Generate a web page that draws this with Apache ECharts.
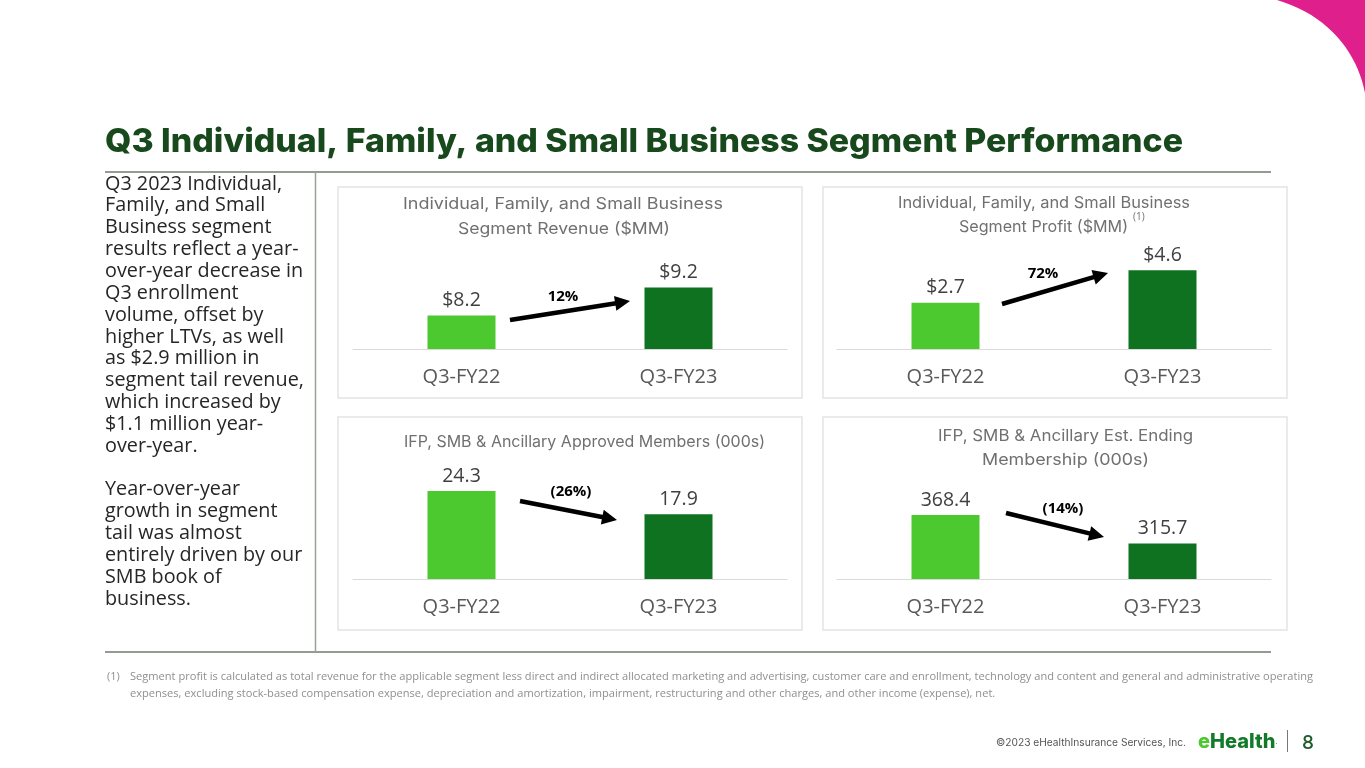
<!DOCTYPE html>
<html>
<head>
<meta charset="utf-8">
<script src="https://cdn.jsdelivr.net/npm/echarts@6/dist/echarts.min.js"></script>
<style>
    html, body { margin: 0; padding: 0; background: #ffffff; }
    #slide { width: 1365px; height: 768px; }
</style>
</head>
<body>
<div id="slide"></div>
<script>
// data
var periods = ['Q3-FY22', 'Q3-FY23'];
var revenue = [8.2, 9.2];          // segment revenue, $MM
var profit = [2.7, 4.6];           // segment profit, $MM
var approved = [24.3, 17.9];       // approved members, 000s
var membership = [368.4, 315.7];   // est. ending membership, 000s
var changes = ['12%', '72%', '(26%)', '(14%)'];

var LIGHT = '#4cc92f';
var DARK = '#0e7220';
var SANS = "'Open Sans', 'Noto Sans', sans-serif";
var GEO = "Inter, 'Noto Sans', sans-serif";

// squeeze or stretch a text horizontally so that it spans the given width
function fitScale(text, font, width) {
    var ctx = document.createElement('canvas').getContext('2d');
    ctx.font = font;
    return width / ctx.measureText(text).width;
}

// panels: box, grid and axis range
var panels = [
    { box: [338, 187, 464, 211], left: 353, top: 250, min: 7, max: 10.54, data: revenue, prefix: '$' },
    { box: [823, 187, 464, 211], left: 837, top: 250, min: 0, max: 5.79, data: profit, prefix: '$' },
    { box: [338, 417, 464, 213], left: 353, top: 480, min: 0, max: 27.35, data: approved, prefix: '' },
    { box: [823, 417, 464, 213], left: 837, top: 480, min: 250, max: 433, data: membership, prefix: '' }
];

var grids = [], xAxes = [], yAxes = [], series = [];
panels.forEach(function (p, i) {
    grids.push({ left: p.left, top: p.top, width: 434, height: 99 });
    xAxes.push({
        type: 'category', gridIndex: i, data: periods,
        axisLine: { lineStyle: { color: '#d9d9d9', width: 1 } },
        axisTick: { show: false },
        axisLabel: { fontFamily: SANS, fontSize: 20, color: '#595959', margin: 18 }
    });
    yAxes.push({
        type: 'value', gridIndex: i, min: p.min, max: p.max, show: false,
        splitLine: { show: false }
    });
    series.push({
        type: 'bar', xAxisIndex: i, yAxisIndex: i, barWidth: 68,
        data: p.data,
        itemStyle: {
            color: function (params) { return params.dataIndex === 0 ? LIGHT : DARK; }
        },
        label: {
            show: true, position: 'top', distance: 5,
            fontFamily: SANS, fontSize: 19.5, color: '#404040',
            formatter: function (params) { return p.prefix + params.value.toFixed(1); }
        },
        silent: true
    });
});

// trend arrows (slide annotations)
var arrows = [
    { from: [510, 320], to: [630, 301], text: [563, 297] },
    { from: [1002, 304], to: [1108, 273], text: [1043, 274] },
    { from: [520, 501], to: [617, 520], text: [571, 492] },
    { from: [1006, 513], to: [1104, 537], text: [1063, 509] }
];

function arrowShapes(a, label) {
    var x1 = a.from[0], y1 = a.from[1], x2 = a.to[0], y2 = a.to[1];
    var ang = Math.atan2(y2 - y1, x2 - x1);
    var hl = 15, hw = 7.5;
    var bx = x2 - hl * Math.cos(ang), by = y2 - hl * Math.sin(ang);
    return [{
        type: 'line',
        shape: { x1: x1, y1: y1, x2: bx + Math.cos(ang), y2: by + Math.sin(ang) },
        style: { stroke: '#000', lineWidth: 4.5 }
    }, {
        type: 'polygon',
        shape: { points: [[x2, y2], [bx - hw * Math.sin(ang), by + hw * Math.cos(ang)], [bx + hw * Math.sin(ang), by - hw * Math.cos(ang)]] },
        style: { fill: '#000' }
    }, {
        type: 'text', x: a.text[0], y: a.text[1],
        style: { text: label, fontFamily: SANS, fontWeight: 'bold', fontSize: 15, fill: '#000', align: 'center', verticalAlign: 'middle' }
    }];
}

// magenta corner outline: top edge, right edge, then a curve back
function cornerPoints() {
    var pts = [[1277, 0], [1366, 0], [1366, 93]];
    var p0 = [1365, 93], c1 = [1357, 52], c2 = [1328, 15], p3 = [1277, 0];
    for (var t = 0; t <= 1.0001; t += 0.05) {
        var u = 1 - t;
        pts.push([
            u * u * u * p0[0] + 3 * u * u * t * c1[0] + 3 * u * t * t * c2[0] + t * t * t * p3[0],
            u * u * u * p0[1] + 3 * u * u * t * c1[1] + 3 * u * t * t * c2[1] + t * t * t * p3[1]
        ]);
    }
    return pts;
}

var titleText = 'Q3 Individual, Family, and Small Business Segment Performance';
var titleFont = '800 33px Inter';
var titleScale = fitScale(titleText, titleFont, 1078);

var noteLine1 = 'Segment profit is calculated as total revenue for the applicable segment less direct and indirect allocated marketing and advertising, customer care and enrollment, technology and content and general and administrative operating';
var noteLine2 = 'expenses, excluding stock-based compensation expense, depreciation and amortization, impairment, restructuring and other charges, and other income (expense), net.';
var noteScale = fitScale(noteLine1, "11px 'Open Sans'", 1183);

var bodyLines = [
    'Q3 2023 Individual,',
    'Family, and Small',
    'Business segment',
    'results reflect a year-',
    'over-year decrease in',
    'Q3 enrollment',
    'volume, offset by',
    'higher LTVs, as well',
    'as $2.9 million in',
    'segment tail revenue,',
    'which increased by',
    '$1.1 million year-',
    'over-year.',
    '',
    'Year-over-year',
    'growth in segment',
    'tail was almost',
    'entirely driven by our',
    'SMB book of',
    'business.'
];

var graphic = [];

graphic.push({
    type: 'polygon',
    shape: { points: cornerPoints() },
    style: { fill: '#df1f8c' }
});

// panel boxes
panels.forEach(function (p) {
    graphic.push({
        type: 'rect', z: -1,
        shape: { x: p.box[0], y: p.box[1], width: p.box[2], height: p.box[3] },
        style: { fill: '#ffffff', stroke: '#e4e4e4', lineWidth: 1.5 }
    });
});

// slide title and rules
graphic.push({
    type: 'text', x: 105, y: 142, scaleX: titleScale,
    style: { text: titleText, font: titleFont, fill: '#17491c', verticalAlign: 'middle' }
});
graphic.push({ type: 'line', shape: { x1: 105, y1: 172, x2: 1271, y2: 172 }, style: { stroke: '#6e7b6e', lineWidth: 1.5 } });
graphic.push({ type: 'line', shape: { x1: 105, y1: 652, x2: 1271, y2: 652 }, style: { stroke: '#6e7b6e', lineWidth: 1.5 } });
graphic.push({ type: 'line', shape: { x1: 315.5, y1: 172, x2: 315.5, y2: 652 }, style: { stroke: '#9aa39a', lineWidth: 1.5 } });

// left commentary
graphic.push({
    type: 'text', x: 105, y: 173,
    style: { text: bodyLines.join('\n'), fontFamily: SANS, fontSize: 19.8, lineHeight: 21.85, fill: '#262626', verticalAlign: 'top' }
});

// chart titles, each fitted to the width it has on the slide
var TITLE_SIZE = 16;
function titleAt(x, y, text, width) {
    var sx = fitScale(text, TITLE_SIZE + 'px Inter', width);
    return {
        type: 'text', x: x, y: y, scaleX: sx,
        style: { text: text, fontFamily: GEO, fontSize: TITLE_SIZE, fill: '#707070', align: 'center', verticalAlign: 'middle' }
    };
}
graphic.push(titleAt(563, 204, 'Individual, Family, and Small Business', 320));
graphic.push(titleAt(564, 229, 'Segment Revenue ($MM)', 212));
graphic.push(titleAt(1044, 203, 'Individual, Family, and Small Business', 292));
graphic.push(titleAt(1043.5, 227, 'Segment Profit ($MM)', 169));
graphic.push({ type: 'text', x: 1133, y: 217, style: { text: '(1)', fontFamily: SANS, fontSize: 10, fill: '#707070', verticalAlign: 'middle' } });
graphic.push(titleAt(584.5, 442, 'IFP, SMB & Ancillary Approved Members (000s)', 361));
graphic.push(titleAt(1065.5, 436, 'IFP, SMB & Ancillary Est. Ending', 255));
graphic.push(titleAt(1065.5, 460, 'Membership (000s)', 167));

// arrows and change labels
arrows.forEach(function (a, i) {
    graphic = graphic.concat(arrowShapes(a, changes[i]));
});

// footnote
graphic.push({ type: 'text', x: 107, y: 677, style: { text: '(1)', fontFamily: SANS, fontSize: 11, fill: '#8f8f8f', verticalAlign: 'middle' } });
graphic.push({ type: 'text', x: 130, y: 677, scaleX: noteScale, style: { text: noteLine1, fontFamily: SANS, fontSize: 11, fill: '#8f8f8f', verticalAlign: 'middle' } });
graphic.push({ type: 'text', x: 130, y: 694, scaleX: noteScale, style: { text: noteLine2, fontFamily: SANS, fontSize: 11, fill: '#8f8f8f', verticalAlign: 'middle' } });

// footer
graphic.push({ type: 'text', x: 1186, y: 743, style: { text: '©2023 eHealthInsurance Services, Inc.', fontFamily: GEO, fontSize: 10.2, fill: '#555555', align: 'right', verticalAlign: 'middle' } });
graphic.push({
    type: 'text', x: 1198, y: 742,
    style: {
        text: '{e|e}{h|Health}{d|.}', verticalAlign: 'middle',
        rich: {
            e: { fontFamily: GEO, fontWeight: 800, fontSize: 20, fill: LIGHT },
            h: { fontFamily: GEO, fontWeight: 800, fontSize: 20, fill: '#137a2a' },
            d: { fontFamily: GEO, fontSize: 8, fill: '#137a2a' }
        }
    }
});
graphic.push({ type: 'line', shape: { x1: 1287.5, y1: 730, x2: 1287.5, y2: 752 }, style: { stroke: '#777777', lineWidth: 1 } });
graphic.push({ type: 'text', x: 1302, y: 743, style: { text: '8', fontFamily: GEO, fontWeight: 500, fontSize: 19, fill: '#1f5a2a', verticalAlign: 'middle' } });

var option = {
    backgroundColor: '#ffffff',
    animation: false,
    grid: grids,
    xAxis: xAxes,
    yAxis: yAxes,
    series: series,
    graphic: { elements: graphic }
};

var chart = echarts.init(document.getElementById('slide'));
chart.setOption(option);
</script>
</body>
</html>
